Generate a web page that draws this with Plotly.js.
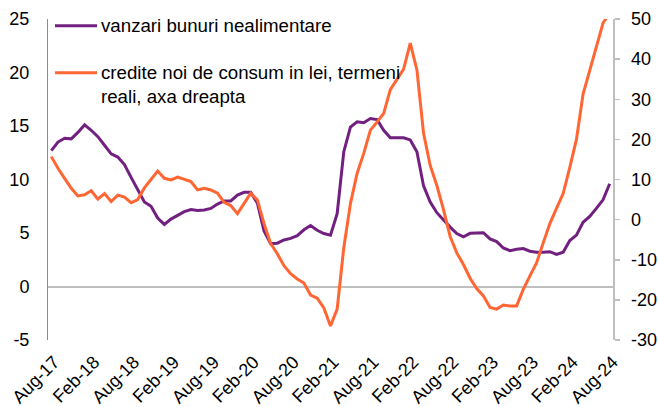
<!DOCTYPE html>
<html>
<head>
<meta charset="utf-8">
<script src="https://cdn.plot.ly/plotly-3.0.1.min.js"></script>
<style>html,body{margin:0;padding:0;background:#fff;}#chart{width:658px;height:407px;}</style>
</head>
<body>
<div id="chart"></div>
<script>
// Tick labels
var tickLabels = ["Aug-17","Feb-18","Aug-18","Feb-19","Aug-19","Feb-20","Aug-20","Feb-21","Aug-21","Feb-22","Aug-22","Feb-23","Aug-23","Feb-24","Aug-24"];
var leftTickVals = [-5, 0, 5, 10, 15, 20, 25];
var leftTickText = ["-5", "0", "5", "10", "15", "20", "25"];
var rightTickVals = [-30, -20, -10, 0, 10, 20, 30, 40, 50];
var rightTickText = ["-30", "-20", "-10", "0", "10", "20", "30", "40", "50"];
var monthNames = ["Jan","Feb","Mar","Apr","May","Jun","Jul","Aug","Sep","Oct","Nov","Dec"];

// vanzari bunuri nealimentare (left axis), Aug-17 .. Aug-24
var salesNonFood = [12.7,13.5,13.85,13.8,14.4,15.1,14.6,14.0,13.2,12.4,
  12.1,11.4,10.2,9.0,7.9,7.5,6.4,5.8,6.3,6.65,
  7.0,7.2,7.1,7.15,7.3,7.7,8.0,8.0,8.55,8.8,
  8.8,7.8,5.2,4.0,4.05,4.35,4.5,4.75,5.3,5.7,
  5.25,4.95,4.8,6.8,12.6,14.9,15.4,15.3,15.7,15.6,
  14.6,13.9,13.9,13.9,13.7,12.6,9.4,7.9,6.9,6.2,
  5.55,4.95,4.65,4.97,4.97,5.03,4.45,4.2,3.6,3.35,
  3.48,3.55,3.3,3.2,3.2,3.25,3.0,3.2,4.3,4.8,
  6.0,6.55,7.3,8.1,9.6];

// credite noi de consum in lei, termeni reali (right axis)
var consumerCredit = [15.7,12.8,10.3,7.8,5.9,6.2,7.2,5.1,6.5,4.5,
  6.1,5.6,4.2,5.0,7.9,10.0,12.1,10.3,9.9,10.6,
  10.1,9.5,7.4,7.8,7.4,6.6,4.3,3.5,1.5,4.1,
  6.6,4.9,-1.0,-6.0,-8.5,-11.5,-13.5,-14.8,-15.8,-18.8,
  -19.6,-22.0,-26.5,-22.3,-7.0,4.0,11.5,16.5,22.3,24.3,
  26.5,32.4,35.0,37.5,44.0,37.3,21.5,13.5,8.5,2.5,
  -4.2,-8.3,-11.2,-14.6,-17.2,-19.0,-21.9,-22.3,-21.3,-21.5,
  -21.5,-17.4,-14.0,-10.8,-5.8,-1.0,2.8,6.5,13.0,20.0,
  31.3,37.0,43.0,49.0,51.5];

var seriesNames = ["vanzari bunuri nealimentare", "credite noi de consum in lei, termeni<br>reali, axa dreapta"];
var seriesColors = ["#71207F", "#FF6633"];

// Month category labels Aug-17 .. Aug-24
var months = [];
for (var k = 0; k < salesNonFood.length; k++) {
  var m = (7 + k) % 12;
  var y = 17 + Math.floor((7 + k) / 12);
  months.push(monthNames[m] + "-" + y);
}

var FONT = "Liberation Sans, Arial, sans-serif";

var traces = [
  {x: months, y: salesNonFood, type: "scatter", mode: "lines", name: seriesNames[0],
   line: {color: seriesColors[0], width: 3}, yaxis: "y"},
  {x: months, y: consumerCredit, type: "scatter", mode: "lines", name: seriesNames[1],
   line: {color: seriesColors[1], width: 3}, yaxis: "y2"}
];

// Legend drawn inside the plot (top-left), as in the reference
var legendRows = [0.979, 0.8327];
var legendText = [0.979, 0.7953];
var shapes = [], annotations = [];
for (var s = 0; s < 2; s++) {
  shapes.push({type: "line", xref: "paper", yref: "paper", x0: 0.0124, x1: 0.0867,
               y0: legendRows[s], y1: legendRows[s], line: {color: seriesColors[s], width: 3}});
  annotations.push({xref: "paper", yref: "paper", x: 0.0905, y: legendText[s], xanchor: "left",
                    yanchor: "middle", align: "left", showarrow: false, text: seriesNames[s],
                    font: {family: FONT, size: 18.7, color: "#000"}});
}

var layout = {
  width: 658, height: 407,
  margin: {l: 48, r: 45, t: 19, b: 67, pad: 0},
  paper_bgcolor: "#fff", plot_bgcolor: "#fff",
  font: {family: FONT, size: 18, color: "#000"},
  showlegend: false,
  shapes: shapes,
  annotations: annotations,
  xaxis: {type: "category", range: [-0.5, 84.5], tickmode: "array", tickvals: tickLabels, ticktext: tickLabels,
          tickangle: -45, showgrid: false, zeroline: false, showline: false, ticks: "",
          ticklabelstandoff: 7, ticklabelshift: 3, tickfont: {family: FONT, size: 18, color: "#000"}},
  yaxis: {range: [-5, 25], tickmode: "array", tickvals: leftTickVals, ticktext: leftTickText,
          showgrid: false, zeroline: true, zerolinecolor: "#BFBFBF",
          zerolinewidth: 2, showline: true, linecolor: "#8C8C8C", linewidth: 1, ticks: "",
          ticklabelstandoff: 14, tickfont: {family: FONT, size: 18, color: "#000"}},
  yaxis2: {range: [-30, 50], tickmode: "array", tickvals: rightTickVals, ticktext: rightTickText,
           overlaying: "y", side: "right", showgrid: false, zeroline: false,
           showline: true, linecolor: "#BFBFBF", linewidth: 1.5, ticks: "outside", ticklen: 5, tickcolor: "#BFBFBF",
           tickwidth: 1.5, ticklabelstandoff: 8, tickfont: {family: FONT, size: 18, color: "#000"}}
};

Plotly.newPlot("chart", traces, layout, {displayModeBar: false, staticPlot: true});
</script>
</body>
</html>
